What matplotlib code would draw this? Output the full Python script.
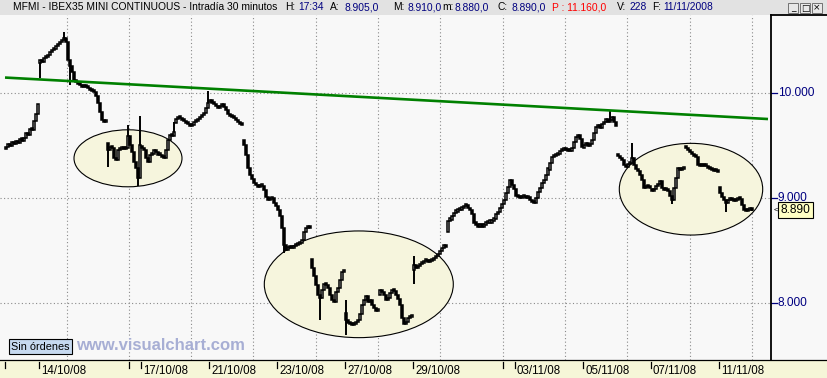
import matplotlib
matplotlib.use("Agg")
import matplotlib.pyplot as plt
import matplotlib.transforms as mtransforms
from matplotlib.patches import Ellipse, Rectangle
import numpy as np

plt.rcParams['font.family'] = ['Liberation Sans', 'DejaVu Sans']

# ---------------- data ----------------
dates = ["13/10/08", "14/10/08", "15/10/08", "16/10/08", "17/10/08", "20/10/08",
         "21/10/08", "22/10/08", "23/10/08", "24/10/08", "27/10/08", "28/10/08",
         "29/10/08", "30/10/08", "31/10/08", "03/11/08", "04/11/08", "05/11/08",
         "06/11/08", "07/11/08", "10/11/08", "11/11/08"]
labelled_dates = ["14/10/08", "17/10/08", "21/10/08", "23/10/08", "27/10/08",
                  "29/10/08", "03/11/08", "05/11/08", "07/11/08", "11/11/08"]

day_opens = [9470, 10290, 10200, 9530, 9500, 9720, 9920, 9560, 8930, 8420, 7910,
             8080, 8320, 8680, 8740, 9090, 9270, 9480, 9420, 9090, 9500, 9110]

closes_by_day = [
    [9488, 9520, 9500, 9536, 9515, 9545, 9530, 9564, 9550, 9574, 9620, 9600, 9660, 9650, 9740, 9800, 9898],
    [10317, 10298, 10336, 10346, 10365, 10393, 10412, 10422, 10450, 10469, 10488, 10508, 10527, 10488, 10317, 10260, 10203],
    [10127, 10108, 10089, 10079, 10060, 10069, 10060, 10050, 10031, 10022, 10012, 9974, 9908, 9822, 9746, 9727, 9746],
    [9460, 9489, 9479, 9384, 9365, 9460, 9469, 9479, 9469, 9479, 9593, 9508, 9441, 9346, 9289, 9193, 9508],
    [9479, 9460, 9384, 9346, 9412, 9422, 9460, 9441, 9412, 9412, 9393, 9384, 9460, 9555, 9603, 9593, 9631],
    [9754, 9773, 9764, 9745, 9735, 9716, 9707, 9688, 9697, 9726, 9735, 9754, 9773, 9793, 9812, 9859, 9907],
    [9936, 9908, 9898, 9879, 9860, 9879, 9898, 9869, 9841, 9803, 9784, 9774, 9764, 9746, 9727, 9708, 9698],
    [9508, 9412, 9289, 9222, 9184, 9146, 9127, 9108, 9117, 9117, 9079, 9012, 8984, 8993, 9003, 8955, 8927],
    [8888, 8831, 8717, 8555, 8508, 8536, 8527, 8527, 8546, 8555, 8565, 8574, 8603, 8679, 8717, 8736, 8717],
    [8336, 8260, 8174, 8079, 8051, 8127, 8184, 8174, 8146, 8079, 8031, 8012, 8108, 8146, 8222, 8298, 8317],
    [7841, 7812, 7803, 7793, 7803, 7822, 7841, 7898, 7984, 8031, 8069, 8012, 8031, 7984, 7955, 7927, 7936],
    [8127, 8108, 8079, 8031, 8051, 8098, 8127, 8117, 8079, 8041, 7984, 7860, 7803, 7822, 7860, 7869, 7879],
    [8365, 8336, 8355, 8374, 8384, 8403, 8403, 8393, 8403, 8412, 8431, 8450, 8469, 8498, 8527, 8555, 8536],
    [8788, 8798, 8836, 8864, 8874, 8884, 8893, 8903, 8922, 8931, 8912, 8884, 8846, 8769, 8750, 8731, 8750],
    [8731, 8750, 8760, 8769, 8769, 8788, 8807, 8846, 8874, 8903, 8941, 8988, 9055, 9112, 9170, 9131, 9084],
    [9022, 9012, 9003, 9012, 9022, 9003, 9012, 8984, 8965, 8955, 9003, 9060, 9098, 9146, 9174, 9222, 9289],
    [9336, 9393, 9403, 9412, 9422, 9450, 9460, 9469, 9460, 9450, 9450, 9479, 9536, 9584, 9603, 9565, 9488],
    [9508, 9527, 9498, 9517, 9555, 9622, 9679, 9698, 9669, 9708, 9727, 9755, 9727, 9746, 9774, 9727, 9688],
    [9403, 9384, 9365, 9317, 9298, 9327, 9336, 9384, 9317, 9279, 9260, 9222, 9174, 9098, 9117, 9108, 9098],
    [9070, 9089, 9117, 9136, 9165, 9098, 9079, 9079, 9070, 9022, 8984, 9098, 9193, 9289, 9270, 9279, 9289],
    [9479, 9460, 9441, 9422, 9403, 9393, 9317, 9308, 9317, 9308, 9308, 9289, 9279, 9270, 9260, 9260, 9250],
    [9050, 9012, 8984, 8955, 8984, 8993, 8984, 8974, 8984, 9003, 8993, 8936, 8888, 8879, 8888, 8905, 8890],
]

spike_high_bars = [29, 61, 67, 84, 101, 170, 204, 302, 313, 373]
spike_high_vals = [10580, 9700, 9780, 9730, 10020, 8030, 8450, 9840, 9530, 8910]
spike_low_bars = [17, 32, 51, 66, 139, 157, 170, 204, 333, 360, 373]
spike_low_vals = [10150, 10080, 9300, 9120, 8480, 7840, 7700, 8180, 8950, 8870, 8880]

trend_prices = [10150, 9755]
axis_levels = [8000, 9000, 10000]
axis_labels = ["8.000", "9.000", "10.000"]
last_price = 8890
last_label = "8.890"

# ---------------- layout helpers ----------------
W, H = 828, 378
PLOT_RIGHT = 771
PLOT_TOP, PLOT_BOTTOM = 15, 360


def frect(x0, y0, x1, y1):
    return [x0 / W, 1 - y1 / H, (x1 - x0) / W, (y1 - y0) / H]


def px2bar(px):
    return (px - 6) / 2.0


def py2price(py):
    return 9000 + (198.3 - py) * 9.524


fig = plt.figure(figsize=(W / 100, H / 100), dpi=100)
fig.patch.set_facecolor('#f8f8f8')

# background bands (drawn beneath axes)
fig.add_artist(Rectangle((0, 1 - PLOT_TOP / H), 1, PLOT_TOP / H,
                         transform=fig.transFigure, facecolor='#e2e2e2',
                         edgecolor='none', zorder=-5))
fig.add_artist(Rectangle((0, 0), 1, (H - PLOT_BOTTOM) / H,
                         transform=fig.transFigure, facecolor='#f6f6d8',
                         edgecolor='none', zorder=-5))

ax = fig.add_axes(frect(0, PLOT_TOP, PLOT_RIGHT, PLOT_BOTTOM))
ax.set_facecolor('#f8f8f8')
ax.set_xlim(px2bar(0), px2bar(PLOT_RIGHT))
ax.set_ylim(py2price(PLOT_BOTTOM), py2price(PLOT_TOP))
for s in ['top', 'left', 'bottom']:
    ax.spines[s].set_visible(False)
ax.spines['right'].set_color('black')
ax.spines['right'].set_linewidth(1.3)
ax.set_xticks([])
ax.set_yticks([])

# grid (dotted)
grid_kw = dict(color='#8a8a8a', lw=0.8, linestyle=(0, (1, 2.2)), zorder=1)
for lvl in axis_levels:
    ax.axhline(lvl, **grid_kw)
for k in range(1, 13):
    ax.axvline(px2bar(4.3 + 62.3 * k), **grid_kw)

# ellipses
ell_kw = dict(facecolor='#f6f5dd', edgecolor='black', lw=0.8, zorder=2)
ax.add_patch(Ellipse((px2bar(128), py2price(158.3)), 108 / 2, 57 * 9.524, **ell_kw))
ax.add_patch(Ellipse((px2bar(358.8), py2price(284.3)), 189 / 2, 106.7 * 9.524, **ell_kw))
ax.add_patch(Ellipse((px2bar(691), py2price(189.2)), 143.4 / 2, 91.7 * 9.524, **ell_kw))

# candles
closes = np.concatenate([np.array(d, dtype=float) for d in closes_by_day])
opens = []
for d, day in enumerate(closes_by_day):
    opens.append(day_opens[d])
    opens.extend(day[:-1])
opens = np.array(opens, dtype=float)
highs = np.maximum(opens, closes)
lows = np.minimum(opens, closes)
for b, v in zip(spike_high_bars, spike_high_vals):
    highs[b] = max(highs[b], v)
for b, v in zip(spike_low_bars, spike_low_vals):
    lows[b] = min(lows[b], v)

x = np.arange(len(closes))
ax.vlines(x, lows, highs, color='black', lw=1.4, zorder=3)
up = closes >= opens
body_lo = np.minimum(opens, closes)
body_h = np.maximum(np.abs(closes - opens), 20)
ax.bar(x[up], body_h[up], bottom=body_lo[up], width=1.05, color='white',
       edgecolor='black', linewidth=1.1, zorder=4)
ax.bar(x[~up], body_h[~up], bottom=body_lo[~up], width=1.05, color='black',
       edgecolor='black', linewidth=1.1, zorder=4)

# trend line
ax.plot([px2bar(5), px2bar(768)], trend_prices, color='#008000', lw=1.9,
        zorder=5, solid_capstyle='butt')

# right price axis
blend = mtransforms.blended_transform_factory(ax.transAxes, ax.transData)
for lvl, lab in zip(axis_levels, axis_labels):
    ax.plot([1.0, 1.0 + 6 / PLOT_RIGHT], [lvl, lvl], color='#000080', lw=0.9,
            transform=blend, clip_on=False)
    ax.text(1.0 + 7 / PLOT_RIGHT, lvl, lab, transform=blend, color='#000080',
            fontsize=8.6, ha='left', va='center', clip_on=False)

ax.text(795.5 / PLOT_RIGHT, last_price, last_label, transform=blend,
        fontsize=8.6, color='black', ha='center', va='center', zorder=10,
        clip_on=False,
        bbox=dict(boxstyle='square,pad=0.18', facecolor='#ffffc4',
                  edgecolor='black', lw=0.8))
ax.text(776 / PLOT_RIGHT, last_price, '<', transform=blend, fontsize=6,
        color='black', ha='center', va='center', clip_on=False)

# right panel top border
fig.add_artist(plt.Line2D([PLOT_RIGHT / W, 1], [1 - PLOT_TOP / H] * 2,
                          color='black', lw=1.3))

# title bar text
title_parts = [
    (13, "MFMI - IBEX35 MINI CONTINUOUS - Intradía 30 minutos", 'black'),
    (285, "H:", 'black'), (298, "17:34", '#000080'),
    (330, "A:", 'black'), (345, "8.905,0", '#000080'),
    (393, "M:", 'black'), (408, "8.910,0", '#000080'),
    (442, "m:", 'black'), (455, "8.880,0", '#000080'),
    (498, "C:", 'black'), (512, "8.890,0", '#000080'),
    (552, "P : 11.160,0", '#ff0000'),
    (617, "V:", 'black'), (630, "228", '#000080'),
    (652, "F:", 'black'), (663, "11/11/2008", '#000080'),
]
for px, txt, col in title_parts:
    fig.text(px / W, 1 - 7.5 / H, txt, color=col, fontsize=7.4,
             ha='left', va='center')

# window buttons
for bx, sym in [(788, '_'), (800, '□'), (812, '×')]:
    fig.add_artist(Rectangle((bx / W, 1 - 13 / H), 10 / W, 10 / H,
                             transform=fig.transFigure, facecolor='#e8e8e8',
                             edgecolor='#606060', lw=0.6))
    fig.text((bx + 5) / W, 1 - 8 / H, sym, fontsize=6.5, ha='center',
             va='center', color='black', family=['DejaVu Sans'])

# bottom date strip: border, ticks, labels
fig.add_artist(plt.Line2D([0, 1], [1 - PLOT_BOTTOM / H] * 2, color='black',
                          lw=0.9))
tick_bars = [d * 17 - 0.5 for d in range(len(dates))
             if dates[d] in labelled_dates or d == 0]
extra_ticks = [px2bar(129), px2bar(503)]
for tb in tick_bars + extra_ticks:
    fx = (6 + 2 * tb) / W
    fig.add_artist(plt.Line2D([fx, fx], [1 - 362 / H, 1 - 368 / H],
                              color='black', lw=0.9))
for d, lab in enumerate(dates):
    if lab in labelled_dates:
        fx = (6 + 2 * (d * 17 - 0.5) + 2) / W
        fig.text(fx, 1 - 371 / H, lab, fontsize=8.3, ha='left', va='center',
                 color='black')

# watermark and status box
fig.text(11 / W, 1 - 346.5 / H, "Sin órdenes", fontsize=7.8, ha='left',
         va='center', color='black',
         bbox=dict(boxstyle='square,pad=0.2', facecolor='#c6d9f0',
                   edgecolor='black', lw=0.8))
fig.text(76 / W, 1 - 345 / H, "www.visualchart.com", fontsize=12,
         fontweight='bold', ha='left', va='center', color='#a7aed4')

fig.savefig('out.png', dpi=100, facecolor=fig.get_facecolor())
